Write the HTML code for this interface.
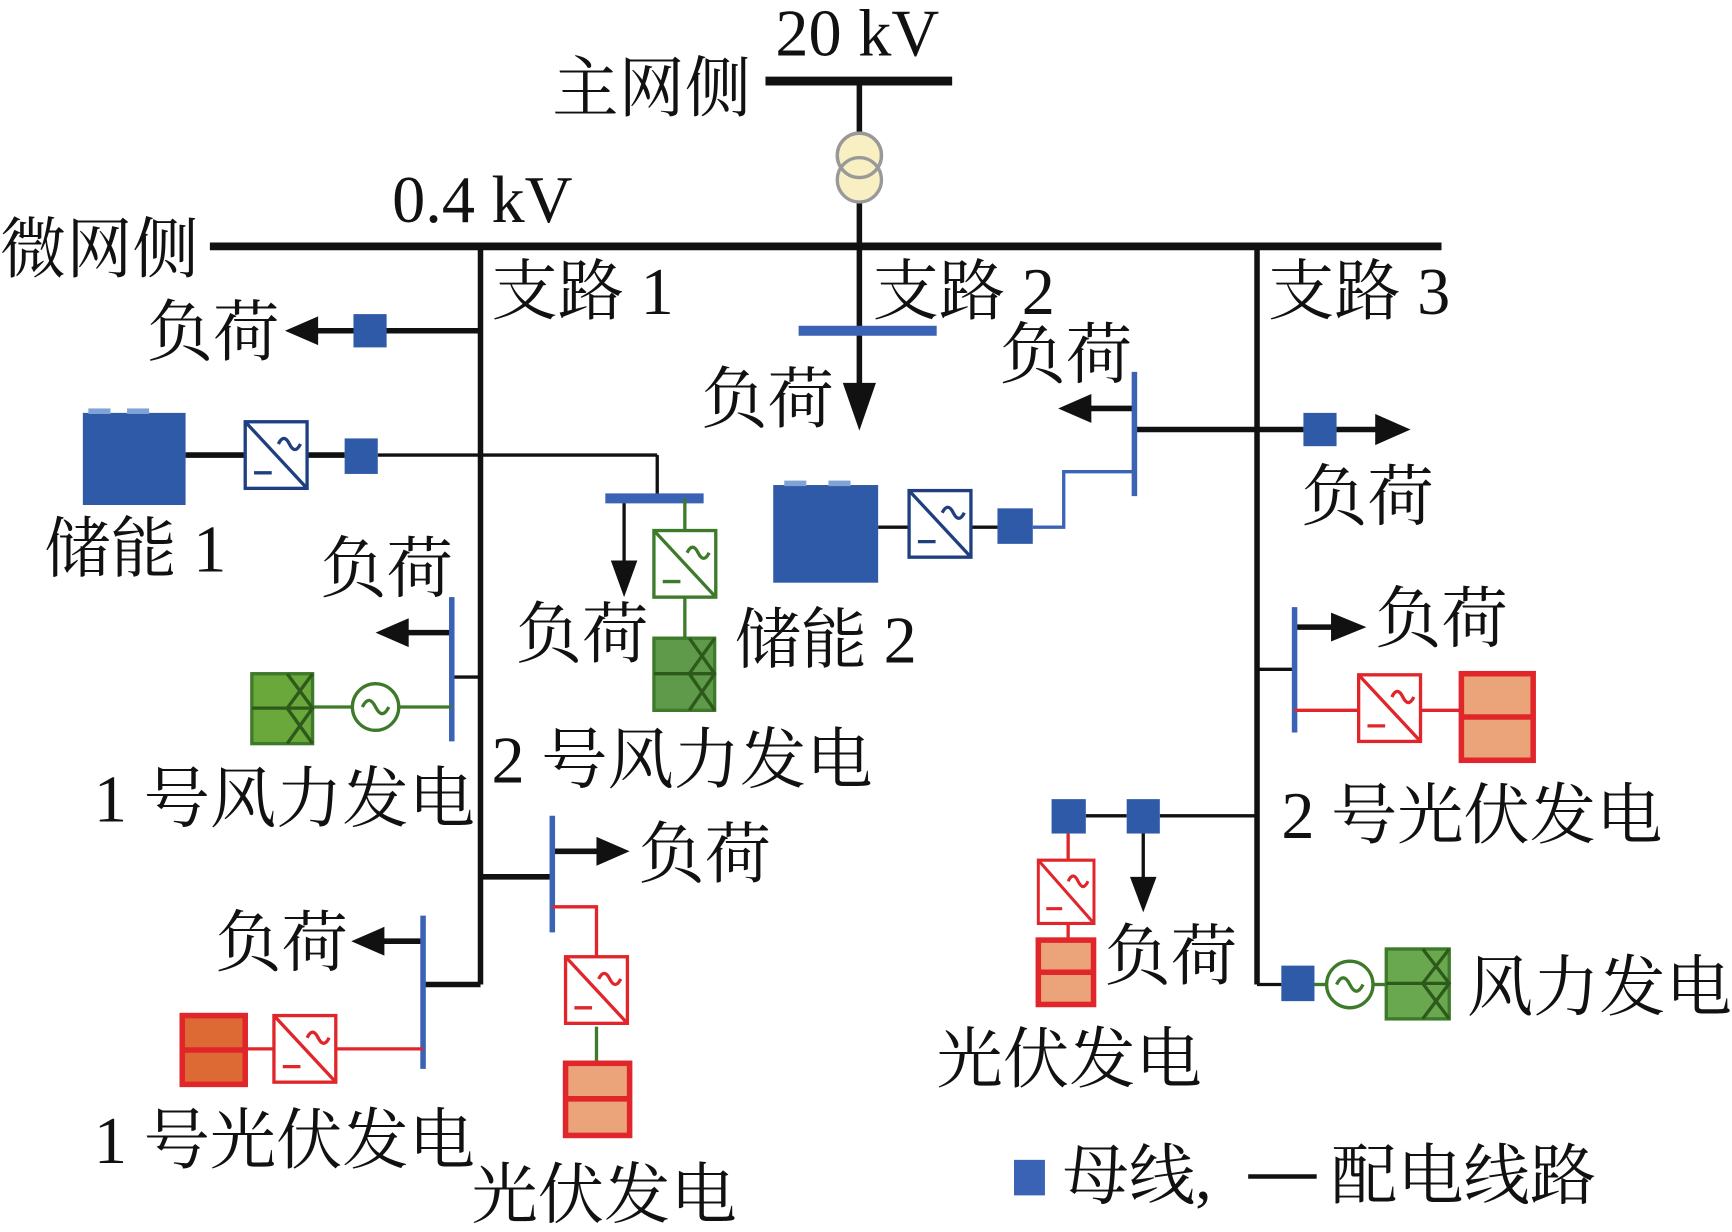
<!DOCTYPE html>
<html><head><meta charset="utf-8"><style>
html,body{margin:0;padding:0;background:#fff;}
svg{display:block;}
text{font-family:"Liberation Serif","Noto Serif CJK SC","Noto Sans CJK SC",serif;font-size:60px;fill:#111;}
</style></head><body>
<svg width="1732" height="1232" viewBox="0 0 1568 1110" preserveAspectRatio="none" xmlns="http://www.w3.org/2000/svg">
<defs>
<g id="conv">
<rect x="0" y="0" width="56" height="60" fill="#fff" stroke-width="3"/>
<line x1="0" y1="0" x2="56" y2="60" stroke-width="3"/>
<path d="M30 20 q5 -10 10 0 q5 10 10 0" fill="none" stroke-width="3"/>
<line x1="8" y1="46" x2="24" y2="46" stroke-width="3"/>
</g>
</defs>
<g stroke="#111" stroke-width="5" fill="none">
<line x1="693" y1="73" x2="862" y2="73" stroke-width="8"/>
<line x1="778" y1="73" x2="778" y2="222"/>
<line x1="190" y1="222" x2="1305" y2="222" stroke-width="7"/>
<line x1="435" y1="222" x2="435" y2="887"/>
<line x1="1138" y1="222" x2="1138" y2="887"/>
<line x1="778" y1="222" x2="778" y2="350"/>
<line x1="435" y1="298" x2="285" y2="298"/>
<line x1="168" y1="410" x2="222" y2="410"/>
<line x1="278" y1="410" x2="312" y2="410"/>
<line x1="342" y1="410" x2="595" y2="410" stroke-width="3"/>
<line x1="595" y1="410" x2="595" y2="449" stroke-width="3"/>
<line x1="565" y1="449" x2="565" y2="510" stroke-width="3"/>
<line x1="409" y1="610" x2="435" y2="610" stroke-width="3"/>
<line x1="409" y1="570" x2="365" y2="570"/>
<line x1="435" y1="790" x2="500" y2="790"/>
<line x1="500" y1="767" x2="545" y2="767"/>
<line x1="435" y1="887" x2="383" y2="887"/>
<line x1="383" y1="848" x2="345" y2="848"/>
<line x1="795" y1="475" x2="823" y2="475" stroke-width="3"/>
<line x1="879" y1="475" x2="903" y2="475" stroke-width="3"/>
<line x1="1027" y1="387" x2="1180" y2="387"/>
<line x1="1210" y1="387" x2="1250" y2="387"/>
<line x1="1027" y1="368" x2="985" y2="368"/>
<line x1="1138" y1="603" x2="1172" y2="603" stroke-width="3"/>
<line x1="1172" y1="565" x2="1210" y2="565"/>
<line x1="1138" y1="735" x2="1050" y2="735" stroke-width="3"/>
<line x1="1020" y1="735" x2="983" y2="735" stroke-width="3"/>
<line x1="1035" y1="750" x2="1035" y2="795" stroke-width="3"/>
<line x1="1138" y1="887" x2="1160" y2="887" stroke-width="3"/>
<line x1="1130" y1="1060" x2="1192" y2="1060" stroke-width="4"/>
</g>
<g fill="#111">
<polygon points="778,388 763,345 793,345"/>
<polygon points="258,298 288,285 288,311"/>
<polygon points="565,538 553,505 577,505"/>
<polygon points="340,570 370,557 370,583"/>
<polygon points="570,767 540,754 540,780"/>
<polygon points="318,848 348,835 348,861"/>
<polygon points="958,368 988,355 988,381"/>
<polygon points="1277,387 1245,373 1245,401"/>
<polygon points="1237,565 1205,552 1205,578"/>
<polygon points="1035,822 1023,790 1047,790"/>
</g>
<circle cx="778" cy="140" r="20" fill="#f8efc2" stroke="#999" stroke-width="3"/>
<circle cx="778" cy="162" r="20" fill="#f8efc2" stroke="#999" stroke-width="3"/>
<circle cx="778" cy="140" r="20" fill="none" stroke="#999" stroke-width="3"/>
<g stroke="#3a62b5" stroke-width="5" fill="none">
<line x1="723" y1="298" x2="848" y2="298" stroke-width="9"/>
<line x1="548" y1="449" x2="637" y2="449" stroke-width="9"/>
<line x1="409" y1="538" x2="409" y2="668"/>
<line x1="500" y1="735" x2="500" y2="840"/>
<line x1="383" y1="825" x2="383" y2="963"/>
<line x1="1027" y1="335" x2="1027" y2="447"/>
<line x1="1172" y1="547" x2="1172" y2="660"/>
<polyline points="935,475 963,475 963,425 1027,425" stroke-width="3"/>
</g>
<g fill="#2f5aa8">
<rect x="320" y="283" width="30" height="30"/>
<rect x="312" y="395" width="30" height="32"/>
<rect x="903" y="458" width="32" height="32"/>
<rect x="1180" y="372" width="30" height="30"/>
<rect x="952" y="720" width="31" height="31"/>
<rect x="1020" y="720" width="30" height="31"/>
<rect x="1160" y="870" width="30" height="32"/>
<rect x="918" y="1045" width="28" height="32" fill="#3a62b5"/>
<rect x="75" y="372" width="93" height="83"/>
<rect x="700" y="437" width="95" height="88"/>
</g>
<g fill="#7fa3d6"><rect x="80" y="368" width="20" height="5"/><rect x="115" y="368" width="20" height="5"/><rect x="710" y="433" width="20" height="5"/><rect x="750" y="433" width="20" height="5"/></g>
<g stroke="#1f3f80"><use href="#conv" x="222" y="380"/><use href="#conv" x="823" y="442"/></g>
<g stroke="#3d7a2a"><use href="#conv" x="592" y="478"/></g>
<g stroke="#e0262a"><use href="#conv" x="512" y="862"/><use href="#conv" x="248" y="915"/><use href="#conv" x="1230" y="608"/><use href="#conv" x="940" y="775" transform="translate(940 775) scale(0.9 0.95) translate(-940 -775)"/></g>
<g stroke="#3d7a2a" stroke-width="3" fill="none">
<line x1="620" y1="449" x2="620" y2="478"/>
<line x1="620" y1="538" x2="620" y2="575"/>
<line x1="409" y1="637" x2="362" y2="637"/>
<line x1="318" y1="637" x2="283" y2="637"/>
<line x1="540" y1="925" x2="540" y2="958"/>
<line x1="1190" y1="887" x2="1200" y2="887"/>
<line x1="1244" y1="887" x2="1255" y2="887"/>
<circle cx="340" cy="637" r="21" fill="#fff"/>
<path d="M328 637 q6 -12 12 0 q6 12 12 0"/>
<circle cx="1222" cy="887" r="21" fill="#fff"/>
<path d="M1210 887 q6 -12 12 0 q6 12 12 0"/>
</g>
<g stroke="#3d7a2a" stroke-width="3">
<rect x="228" y="607" width="55" height="63" fill="#6aa83c"/>
<rect x="592" y="575" width="55" height="65" fill="#5f9a4a"/>
<rect x="1255" y="855" width="57" height="63" fill="#6aa84f"/>
</g>
<g stroke="#2d5a1a" stroke-width="3" fill="none">
<path d="M260 607 L283 638 L260 670 M283 607 L260 638 L283 670 M228 638 L283 638"/>
<path d="M624 575 L647 607 L624 640 M647 575 L624 607 L647 640 M592 607 L647 607"/>
<path d="M1288 855 L1312 886 L1288 918 M1312 855 L1288 886 L1312 918 M1255 886 L1312 886"/>
</g>
<g stroke="#e0262a" stroke-width="3" fill="none">
<polyline points="500,817 540,817 540,862"/>
<line x1="383" y1="945" x2="305" y2="945"/>
<line x1="248" y1="945" x2="222" y2="945"/>
<line x1="1172" y1="640" x2="1230" y2="640"/>
<line x1="1286" y1="640" x2="1323" y2="640"/>
<line x1="967" y1="751" x2="967" y2="775"/>
<line x1="967" y1="832" x2="967" y2="847"/>
</g>
<g stroke="#e0262a" stroke-width="5">
<rect x="512" y="958" width="58" height="65" fill="#eba37a"/>
<line x1="512" y1="990" x2="570" y2="990"/>
<rect x="165" y="915" width="57" height="62" fill="#dd6a35"/>
<line x1="165" y1="946" x2="222" y2="946"/>
<rect x="1323" y="607" width="65" height="78" fill="#eba37a"/>
<line x1="1323" y1="646" x2="1388" y2="646"/>
<rect x="940" y="847" width="50" height="58" fill="#eba37a"/>
<line x1="940" y1="876" x2="990" y2="876"/>
</g>
<text x="702" y="50" font-size="57">20 kV</text>
<text x="500" y="100">主网侧</text>
<text x="355" y="200" font-size="55">0.4 kV</text>
<text x="0" y="245">微网侧</text>
<text x="445" y="283">支路 1</text>
<text x="790" y="283">支路 2</text>
<text x="1148" y="283">支路 3</text>
<text x="133" y="320">负荷</text>
<text x="635" y="380">负荷</text>
<text x="905" y="340">负荷</text>
<text x="1178" y="468">负荷</text>
<text x="40" y="515">储能 1</text>
<text x="290" y="533">负荷</text>
<text x="467" y="592">负荷</text>
<text x="665" y="597">储能 2</text>
<text x="1245" y="578">负荷</text>
<text x="445" y="705">2 号风力发电</text>
<text x="85" y="740">1 号风力发电</text>
<text x="1160" y="755">2 号光伏发电</text>
<text x="578" y="790">负荷</text>
<text x="195" y="870">负荷</text>
<text x="1000" y="882">负荷</text>
<text x="1328" y="910">风力发电</text>
<text x="848" y="975">光伏发电</text>
<text x="85" y="1048">1 号光伏发电</text>
<text x="427" y="1097">光伏发电</text>
<text x="962" y="1080">母线,</text>
<text x="1205" y="1080">配电线路</text>
</svg>
</body></html>
